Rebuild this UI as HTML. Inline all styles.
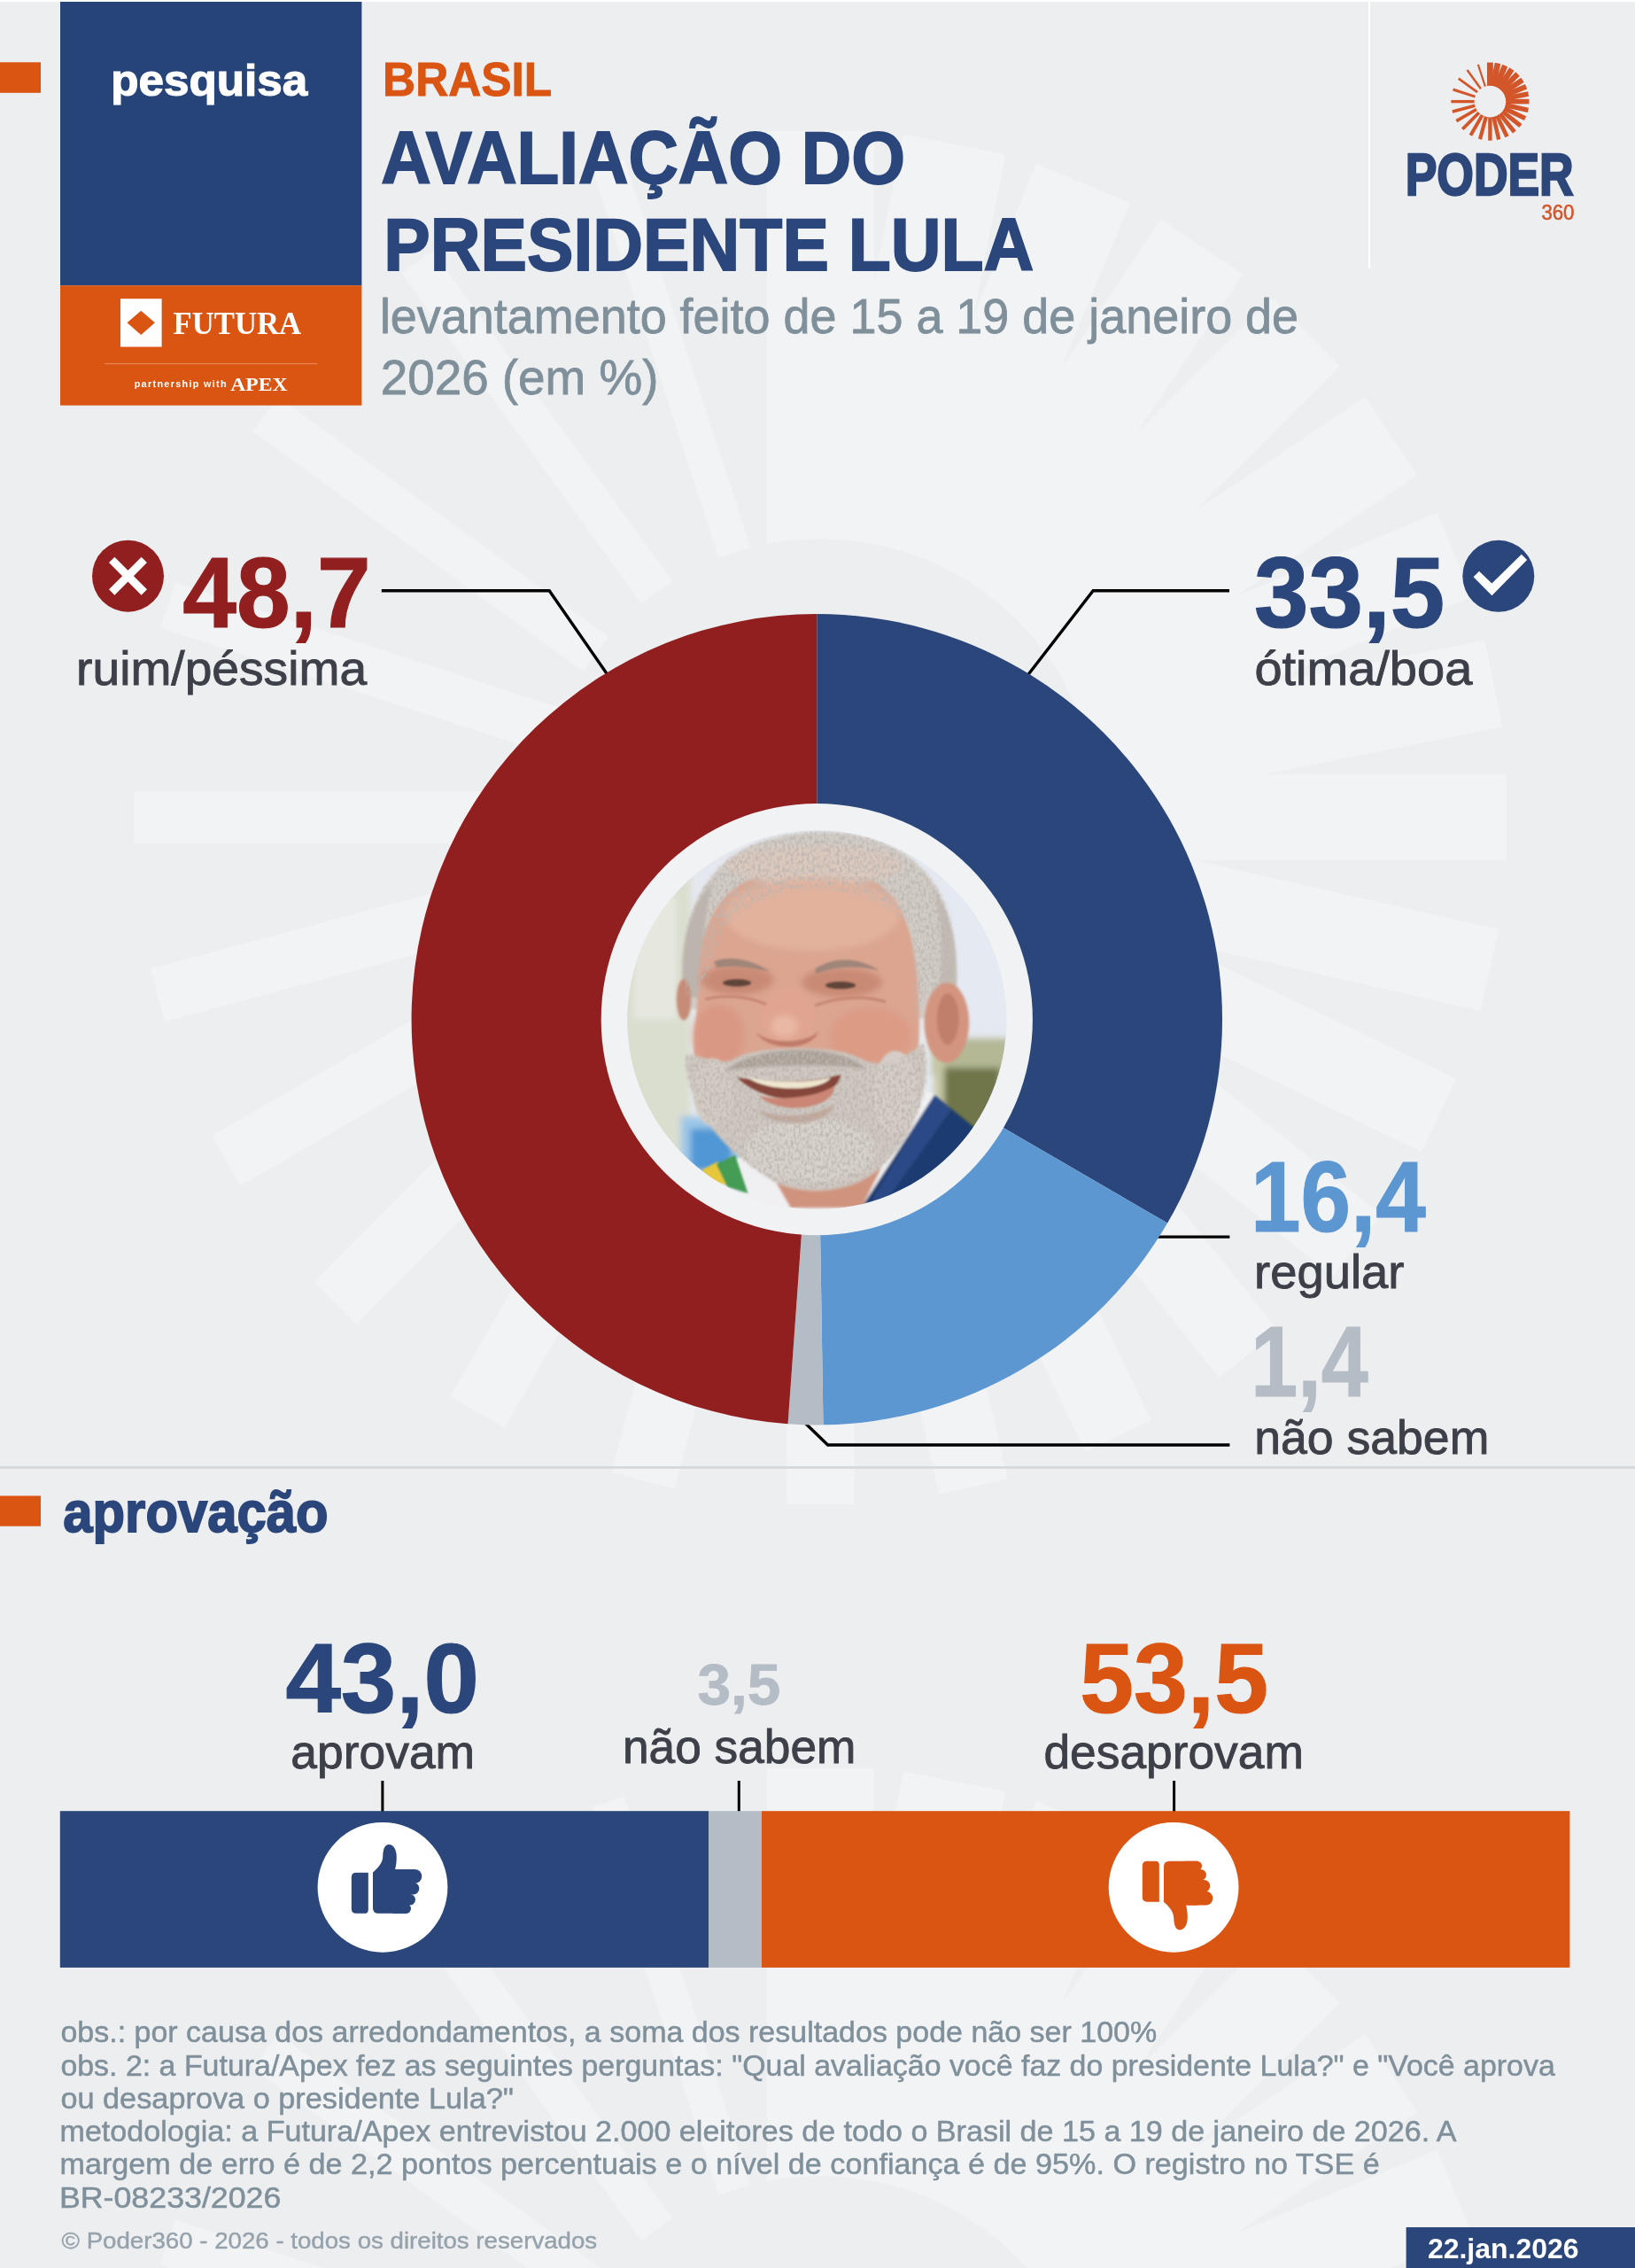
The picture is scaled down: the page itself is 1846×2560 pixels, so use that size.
<!DOCTYPE html>
<html lang="pt-BR">
<head>
<meta charset="utf-8">
<title>Avaliação do presidente Lula - Poder360</title>
<style>
html,body{margin:0;padding:0;background:#edeef0;}
body{width:1846px;height:2560px;overflow:hidden;font-family:'Liberation Sans', sans-serif;}
svg{display:block;}
text{white-space:pre;}
</style>
</head>
<body>
<svg width="1846" height="2560" viewBox="0 0 1846 2560">
<defs>
<clipPath id="sunClip"><path clip-rule="evenodd" d="M-800,-800 H800 V800 H-800 Z M292,0 A292,292 0 1 0 -292,0 A292,292 0 1 0 292,0 Z"/></clipPath>
<g id="sun" clip-path="url(#sunClip)">
<rect x="-56.0" y="-720" width="112.0" height="445" transform="rotate(0.000)"/>
<rect x="-54.6" y="-720" width="109.3" height="445" transform="rotate(11.250)"/>
<rect x="-53.3" y="-720" width="106.6" height="445" transform="rotate(22.500)"/>
<rect x="-51.9" y="-720" width="103.8" height="445" transform="rotate(33.750)"/>
<rect x="-50.6" y="-720" width="101.1" height="445" transform="rotate(45.000)"/>
<rect x="-49.2" y="-720" width="98.4" height="445" transform="rotate(56.250)"/>
<rect x="-47.8" y="-720" width="95.7" height="445" transform="rotate(67.500)"/>
<rect x="-46.5" y="-720" width="93.0" height="445" transform="rotate(78.750)"/>
<rect x="-45.1" y="-720" width="90.2" height="445" transform="rotate(90.000)"/>
<rect x="-43.8" y="-720" width="87.5" height="445" transform="rotate(102.857)"/>
<rect x="-42.4" y="-720" width="84.8" height="445" transform="rotate(115.714)"/>
<rect x="-41.0" y="-720" width="82.1" height="445" transform="rotate(128.571)"/>
<rect x="-39.7" y="-720" width="79.4" height="445" transform="rotate(141.429)"/>
<rect x="-38.3" y="-720" width="76.6" height="445" transform="rotate(154.286)"/>
<rect x="-37.0" y="-720" width="73.9" height="445" transform="rotate(167.143)"/>
<rect x="-35.6" y="-720" width="71.2" height="445" transform="rotate(180.000)"/>
<rect x="-34.2" y="-720" width="68.5" height="445" transform="rotate(195.000)"/>
<rect x="-32.9" y="-720" width="65.8" height="445" transform="rotate(210.000)"/>
<rect x="-31.5" y="-720" width="63.0" height="445" transform="rotate(225.000)"/>
<rect x="-30.2" y="-720" width="60.3" height="445" transform="rotate(240.000)"/>
<rect x="-28.8" y="-720" width="57.6" height="445" transform="rotate(255.000)"/>
<rect x="-27.4" y="-720" width="54.9" height="445" transform="rotate(270.000)"/>
<rect x="-25.0" y="-720" width="50.0" height="445" transform="rotate(288.000)"/>
<rect x="-22.5" y="-720" width="45.1" height="445" transform="rotate(306.000)"/>
<rect x="-20.1" y="-720" width="40.2" height="445" transform="rotate(324.000)"/>
<rect x="-17.6" y="-720" width="35.3" height="445" transform="rotate(342.000)"/>
</g>
<clipPath id="photoClip"><circle cx="922.3" cy="1151.2" r="214"/></clipPath>
<filter id="b4" x="-20%" y="-20%" width="140%" height="140%"><feGaussianBlur stdDeviation="14"/></filter>
<filter id="b2" x="-20%" y="-20%" width="140%" height="140%"><feGaussianBlur stdDeviation="6"/></filter>
<filter id="grain" x="0" y="0" width="100%" height="100%">
<feTurbulence type="fractalNoise" baseFrequency="0.09 0.06" numOctaves="2" seed="7" result="n"/>
<feColorMatrix in="n" type="matrix" values="0 0 0 0 0.50  0 0 0 0 0.46  0 0 0 0 0.43  0 0 0 2.2 -0.85" result="g"/>
<feGaussianBlur in="SourceGraphic" stdDeviation="8" result="sg"/>
<feComposite in="g" in2="sg" operator="in"/>
</filter>
<filter id="b1" x="-20%" y="-20%" width="140%" height="140%"><feGaussianBlur stdDeviation="3"/></filter>
</defs>

<rect width="1846" height="2560" fill="#edeef0"/>
<g transform="translate(926.4,922.7) scale(1.0764)" fill="#ffffff" opacity="0.30"><use href="#sun"/></g>
<g transform="translate(926.4,2770.6) scale(1.0764)" fill="#ffffff" opacity="0.30"><use href="#sun"/></g>
<rect x="0" y="0" width="1846" height="2" fill="#ffffff"/>
<!-- header -->
<rect x="0" y="70.3" width="46" height="34.5" fill="#da5412"/>
<rect x="68" y="2" width="340.4" height="320.2" fill="#274478"/>
<rect x="68" y="322.2" width="340.4" height="135.4" fill="#da5412"/>
<text x="125.3" y="107.8" font-size="50" font-weight="700" fill="#ffffff" font-family="'Liberation Sans', sans-serif" textLength="221.9" lengthAdjust="spacingAndGlyphs" stroke="#ffffff" stroke-width="1.2" stroke-linejoin="miter" stroke-miterlimit="3">pesquisa</text>
<rect x="136" y="337.2" width="46.6" height="54.3" fill="#ffffff"/>
<path d="M159.2,350.7 L174.9,364.3 L159.2,377.9 L143.5,364.3 Z" fill="#da5412"/>
<text x="195.5" y="376.5" font-size="36.5" font-weight="700" fill="#ffffff" font-family="'Liberation Serif', serif" textLength="144.7" lengthAdjust="spacingAndGlyphs">FUTURA</text>
<rect x="118.2" y="410.1" width="240.1" height="1" fill="#ffffff" fill-opacity="0.35"/>
<text x="151.7" y="436.7" font-size="11.3" font-weight="700" fill="#ffffff" font-family="'Liberation Sans', sans-serif" textLength="105.3" lengthAdjust="spacingAndGlyphs" letter-spacing="1.4">partnership with</text>
<text x="260.2" y="441.3" font-size="22" font-weight="700" fill="#ffffff" font-family="'Liberation Serif', serif" textLength="64.3" lengthAdjust="spacingAndGlyphs">APEX</text>
<text x="432.1" y="107.6" font-size="53.5" font-weight="700" fill="#da5412" font-family="'Liberation Sans', sans-serif" textLength="191.1" lengthAdjust="spacingAndGlyphs" stroke="#da5412" stroke-width="0.9" stroke-linejoin="miter" stroke-miterlimit="3">BRASIL</text>
<text x="430.2" y="207.0" font-size="83" font-weight="700" fill="#2b467b" font-family="'Liberation Sans', sans-serif" textLength="591.8" lengthAdjust="spacingAndGlyphs" stroke="#2b467b" stroke-width="1.8" stroke-linejoin="miter" stroke-miterlimit="3">AVALIAÇÃO DO</text>
<text x="433.3" y="305.3" font-size="83" font-weight="700" fill="#2b467b" font-family="'Liberation Sans', sans-serif" textLength="734.1" lengthAdjust="spacingAndGlyphs" stroke="#2b467b" stroke-width="1.8" stroke-linejoin="miter" stroke-miterlimit="3">PRESIDENTE LULA</text>
<text x="428.9" y="376.3" font-size="55" font-weight="400" fill="#7f909b" font-family="'Liberation Sans', sans-serif" textLength="1037.2" lengthAdjust="spacingAndGlyphs" stroke="#7f909b" stroke-width="0.8" stroke-linejoin="miter" stroke-miterlimit="3">levantamento feito de 15 a 19 de janeiro de</text>
<text x="429.7" y="445.0" font-size="55" font-weight="400" fill="#7f909b" font-family="'Liberation Sans', sans-serif" textLength="313.8" lengthAdjust="spacingAndGlyphs" stroke="#7f909b" stroke-width="0.8" stroke-linejoin="miter" stroke-miterlimit="3">2026 (em %)</text>
<rect x="1545" y="0" width="2.1" height="302.7" fill="#ffffff"/>
<g transform="translate(1682.4,114.6) scale(0.06116)" fill="#d2562a"><use href="#sun"/></g>
<text x="1586.7" y="219.8" font-size="66" font-weight="700" fill="#2d477a" font-family="'Liberation Sans', sans-serif" textLength="190.0" lengthAdjust="spacingAndGlyphs" stroke="#2d477a" stroke-width="2.4" stroke-linejoin="miter" stroke-miterlimit="3">PODER</text>
<text x="1740.4" y="247.5" font-size="24" font-weight="400" fill="#d2562a" font-family="'Liberation Sans', sans-serif" textLength="37.1" lengthAdjust="spacingAndGlyphs" stroke="#d2562a" stroke-width="0.6" stroke-linejoin="miter" stroke-miterlimit="3">360</text>
<!-- donut chart -->
<path fill="none" stroke="#000000" stroke-width="3.4" stroke-linejoin="miter" d="M430.8,666.7 H620.2 L689,766"/>
<path fill="none" stroke="#000000" stroke-width="3.4" stroke-linejoin="miter" d="M1388,666.7 H1234.2 L1157,766.5"/>
<path fill="none" stroke="#000000" stroke-width="3.4" stroke-linejoin="miter" d="M1300,1396.1 H1388.4"/>
<path fill="none" stroke="#000000" stroke-width="3.4" stroke-linejoin="miter" d="M907,1604.2 L934.6,1631 H1388.4"/>
<path fill="#2b467b" d="M922.30,693.00 A457.7,457.7 0 0 1 1318.08,1380.59 L1131.21,1272.05 A241.6,241.6 0 0 0 922.30,909.10 Z"/>
<path fill="#5d97d2" d="M1318.08,1380.59 A457.7,457.7 0 0 1 929.49,1608.34 L926.09,1392.27 A241.6,241.6 0 0 0 1131.21,1272.05 Z"/>
<path fill="#b4bcc5" d="M929.49,1608.34 A457.7,457.7 0 0 1 889.58,1607.23 L905.03,1391.68 A241.6,241.6 0 0 0 926.09,1392.27 Z"/>
<path fill="#911f1f" d="M889.58,1607.23 A457.7,457.7 0 0 1 922.30,693.00 L922.30,909.10 A241.6,241.6 0 0 0 905.03,1391.68 Z"/>
<circle cx="922.3" cy="1150.7" r="243.6" fill="#f1f2f4"/>
<circle cx="144.5" cy="650.2" r="40.5" fill="#911f1f"/>
<path d="M126.2,631.9 L162.8,668.5 M162.8,631.9 L126.2,668.5" stroke="#ffffff" stroke-width="9" fill="none"/>
<text x="206.3" y="708.3" font-size="113" font-weight="700" fill="#911f1f" font-family="'Liberation Sans', sans-serif" textLength="212.3" lengthAdjust="spacingAndGlyphs" stroke="#911f1f" stroke-width="1.2" stroke-linejoin="miter" stroke-miterlimit="3">48,7</text>
<text x="86.1" y="772.5" font-size="54" font-weight="400" fill="#3d4048" font-family="'Liberation Sans', sans-serif" textLength="328.0" lengthAdjust="spacingAndGlyphs" stroke="#3d4048" stroke-width="0.9" stroke-linejoin="miter" stroke-miterlimit="3">ruim/péssima</text>
<text x="1416.0" y="708.3" font-size="113" font-weight="700" fill="#2b467b" font-family="'Liberation Sans', sans-serif" textLength="215.1" lengthAdjust="spacingAndGlyphs" stroke="#2b467b" stroke-width="1.2" stroke-linejoin="miter" stroke-miterlimit="3">33,5</text>
<circle cx="1691.8" cy="650.3" r="40.5" fill="#2b467b"/>
<path d="M1663.6,651.2 L1670,644.8 L1684.4,658.6 L1717.8,625.8 L1724.1,631.9 L1684.4,672.3 Z" fill="#ffffff"/>
<text x="1416.4" y="772.5" font-size="54" font-weight="400" fill="#3d4048" font-family="'Liberation Sans', sans-serif" textLength="245.9" lengthAdjust="spacingAndGlyphs" stroke="#3d4048" stroke-width="0.9" stroke-linejoin="miter" stroke-miterlimit="3">ótima/boa</text>
<text x="1411.9" y="1389.5" font-size="113" font-weight="700" fill="#5d97d2" font-family="'Liberation Sans', sans-serif" textLength="197.8" lengthAdjust="spacingAndGlyphs" stroke="#5d97d2" stroke-width="1.2" stroke-linejoin="miter" stroke-miterlimit="3">16,4</text>
<text x="1416.1" y="1454.0" font-size="54" font-weight="400" fill="#3d4048" font-family="'Liberation Sans', sans-serif" textLength="169.2" lengthAdjust="spacingAndGlyphs" stroke="#3d4048" stroke-width="0.9" stroke-linejoin="miter" stroke-miterlimit="3">regular</text>
<text x="1412.3" y="1576.2" font-size="113" font-weight="700" fill="#b4bcc5" font-family="'Liberation Sans', sans-serif" textLength="132.3" lengthAdjust="spacingAndGlyphs" stroke="#b4bcc5" stroke-width="1.2" stroke-linejoin="miter" stroke-miterlimit="3">1,4</text>
<text x="1416.2" y="1640.5" font-size="54" font-weight="400" fill="#3d4048" font-family="'Liberation Sans', sans-serif" textLength="265.1" lengthAdjust="spacingAndGlyphs" stroke="#3d4048" stroke-width="0.9" stroke-linejoin="miter" stroke-miterlimit="3">não sabem</text>
<rect x="0" y="1655" width="1846" height="2.8" fill="#d4d9dd"/>
<!-- portrait -->
<g clip-path="url(#photoClip)">
<g transform="translate(700,930) scale(0.27523)">
<rect x="0" y="0" width="1635" height="1635" fill="#e5e9ef"/>
<g filter="url(#b4)">
<rect x="-60" y="100" width="350" height="1400" fill="#dadecf"/>
<rect x="60" y="300" width="170" height="500" fill="#e6e8e0"/>
<rect x="1340" y="150" width="320" height="700" fill="#e4e9f2"/>
<rect x="1280" y="880" width="320" height="150" fill="#b4b895"/>
<rect x="1300" y="1000" width="260" height="280" fill="#6f7648"/>
<rect x="1290" y="930" width="40" height="330" fill="#c6c7a4"/>
<rect x="250" y="1200" width="260" height="260" fill="#9cc6e8"/>
<rect x="290" y="1250" width="170" height="170" fill="#4f97d5"/>
</g>
<g filter="url(#b2)">
<path d="M262,760 C215,430 330,170 560,80 C760,5 1020,15 1190,140 C1360,270 1410,520 1370,790 L1210,800 L1190,470 L430,470 L340,760 Z" fill="#d2ccc6"/>
<path d="M262,700 C240,500 290,330 380,240 C340,400 330,560 340,720 Z" fill="#bcb5ae"/>
<path d="M1370,760 C1400,560 1370,380 1280,250 C1330,420 1330,600 1290,760 Z" fill="#c2bbb4"/>
<ellipse cx="1340" cy="815" rx="92" ry="165" fill="#d3957f"/>
<ellipse cx="1345" cy="800" rx="45" ry="105" fill="#c07f6a"/>
<ellipse cx="262" cy="720" rx="30" ry="85" fill="#c68c78"/>
<path d="M318,720 C312,400 400,185 790,170 C1150,170 1215,420 1225,720 C1235,900 1220,1010 1190,1110 L330,1110 C285,970 310,840 318,720 Z" fill="#dba590"/>
</g>
<g filter="url(#b4)">
<ellipse cx="800" cy="170" rx="360" ry="80" fill="#dbc9be"/>
<ellipse cx="790" cy="370" rx="360" ry="150" fill="#e2b29d"/>
<ellipse cx="480" cy="640" rx="150" ry="60" fill="#c98a74"/>
<ellipse cx="910" cy="650" rx="165" ry="60" fill="#c98a74"/>
<ellipse cx="1030" cy="870" rx="170" ry="120" fill="#dc9b85"/>
<ellipse cx="405" cy="870" rx="105" ry="130" fill="#d99883"/>
<ellipse cx="690" cy="790" rx="115" ry="120" fill="#e0a590"/>
<ellipse cx="675" cy="830" rx="55" ry="45" fill="#e9b8a5"/>
</g>
<g filter="url(#b2)">
<path d="M560,1350 L1090,1350 L1010,1600 L640,1600 Z" fill="#d0947e"/>
<path d="M455,1385 L560,1330 L700,1575 L990,1575 L1235,1085 L1290,1112 L1040,1610 L540,1610 Z" fill="#f0f0f2"/>
<path d="M1290,1112 L1460,1250 L1340,1510 L960,1620 Z" fill="#1f3b70"/>
<path d="M1290,1112 L1360,1170 L1060,1590 L1000,1600 Z" fill="#2a4a86"/>
<path d="M268,950 C300,935 410,1000 470,965 C560,905 900,905 990,965 C1080,1010 1160,965 1245,900 C1290,1100 1190,1320 1030,1440 C900,1525 700,1525 590,1440 C410,1320 275,1160 268,950 Z" fill="#cfc8c1"/>
<ellipse cx="780" cy="1340" rx="270" ry="130" fill="#d8d2cc"/>
<ellipse cx="1130" cy="1100" rx="90" ry="170" fill="#d5cec8"/>
<ellipse cx="380" cy="1100" rx="80" ry="140" fill="#d3ccc5"/>
<path d="M430,1015 C550,900 910,900 1010,1005 C900,985 560,985 430,1015 Z" fill="#aaa098"/>
<path d="M560,1170 C650,1210 790,1205 880,1150 C860,1240 640,1260 560,1170 Z" fill="#c0a497"/>
</g>
<g filter="url(#grain)">
<path d="M275,700 C225,430 330,170 560,80 C760,5 1020,15 1190,140 C1350,260 1390,470 1365,640 L1260,700 L1215,800 L1200,430 C1000,215 600,215 420,430 L335,700 Z" fill="#000"/>
<path d="M268,950 C300,935 410,1000 470,965 C560,905 900,905 990,965 C1080,1010 1160,965 1245,900 C1290,1100 1190,1320 1030,1440 C900,1525 700,1525 590,1440 C410,1320 275,1160 268,950 Z" fill="#000"/>
</g>
<g filter="url(#b1)">
<path d="M480,1040 C600,1062 800,1062 905,1028 C885,1150 615,1170 480,1040 Z" fill="#85473a"/>
<path d="M525,1040 C620,1062 780,1062 865,1040 C825,1100 600,1100 525,1040 Z" fill="#efe6cf"/>
<path d="M570,1115 C660,1135 800,1125 880,1075 C880,1175 650,1195 570,1115 Z" fill="#cb8674"/>
<ellipse cx="480" cy="652" rx="58" ry="15" fill="#5f4539"/>
<ellipse cx="905" cy="662" rx="62" ry="15" fill="#5f4539"/>
<path d="M385,565 C455,535 545,560 615,605 C545,590 460,578 398,590 Z" fill="#a08579"/>
<path d="M800,595 C880,540 985,548 1065,602 C985,580 880,582 805,615 Z" fill="#a08579"/>
<path d="M350,720 C420,700 520,705 600,740" stroke="#c5846f" stroke-width="10" fill="none"/>
<path d="M800,745 C900,705 1010,705 1090,730" stroke="#c5846f" stroke-width="10" fill="none"/>
<path d="M555,850 C600,905 760,905 815,850 C785,935 600,935 555,850 Z" fill="#c07c67"/>
<path d="M335,1420 L400,1385 L450,1485 L375,1462 Z" fill="#e6c73a"/>
<path d="M395,1395 L472,1358 L525,1515 L440,1488 Z" fill="#459c55"/>
</g>
</g>
</g>
<!-- aprovacao -->
<rect x="0" y="1688.4" width="46" height="34.3" fill="#da5412"/>
<text x="71.3" y="1729.2" font-size="64" font-weight="700" fill="#2b467b" font-family="'Liberation Sans', sans-serif" textLength="299.3" lengthAdjust="spacingAndGlyphs" stroke="#2b467b" stroke-width="1.8" stroke-linejoin="miter" stroke-miterlimit="3">aprovação</text>
<text x="322.4" y="1932.5" font-size="112" font-weight="700" fill="#2b467b" font-family="'Liberation Sans', sans-serif" textLength="218.4" lengthAdjust="spacingAndGlyphs" stroke="#2b467b" stroke-width="1.2" stroke-linejoin="miter" stroke-miterlimit="3">43,0</text>
<text x="328.3" y="1996.3" font-size="54" font-weight="400" fill="#3d4048" font-family="'Liberation Sans', sans-serif" textLength="207.8" lengthAdjust="spacingAndGlyphs" stroke="#3d4048" stroke-width="0.9" stroke-linejoin="miter" stroke-miterlimit="3">aprovam</text>
<text x="787.6" y="1923.5" font-size="65.5" font-weight="700" fill="#b4bcc5" font-family="'Liberation Sans', sans-serif" textLength="93.8" lengthAdjust="spacingAndGlyphs" stroke="#b4bcc5" stroke-width="0.8" stroke-linejoin="miter" stroke-miterlimit="3">3,5</text>
<text x="702.9" y="1989.9" font-size="54" font-weight="400" fill="#3d4048" font-family="'Liberation Sans', sans-serif" textLength="263.6" lengthAdjust="spacingAndGlyphs" stroke="#3d4048" stroke-width="0.9" stroke-linejoin="miter" stroke-miterlimit="3">não sabem</text>
<text x="1219.3" y="1932.5" font-size="112" font-weight="700" fill="#da5412" font-family="'Liberation Sans', sans-serif" textLength="212.7" lengthAdjust="spacingAndGlyphs" stroke="#da5412" stroke-width="1.2" stroke-linejoin="miter" stroke-miterlimit="3">53,5</text>
<text x="1178.4" y="1996.3" font-size="54" font-weight="400" fill="#3d4048" font-family="'Liberation Sans', sans-serif" textLength="293.5" lengthAdjust="spacingAndGlyphs" stroke="#3d4048" stroke-width="0.9" stroke-linejoin="miter" stroke-miterlimit="3">desaprovam</text>
<rect x="430.4" y="2010" width="3" height="35" fill="#000000"/>
<rect x="832.8" y="2010" width="3" height="35" fill="#000000"/>
<rect x="1324.1" y="2010" width="3" height="35" fill="#000000"/>
<rect x="67.8" y="2044.2" width="732.5" height="176.7" fill="#2b467b"/>
<rect x="800" y="2044.2" width="60.2" height="176.7" fill="#b4bcc5"/>
<rect x="860" y="2044.2" width="912.4" height="176.7" fill="#da5412"/>
<circle cx="432" cy="2130.3" r="73.4" fill="#ffffff"/>
<g transform="translate(352,2050) scale(0.09786)" fill="#2b467b"><path d="M458,707 Q458,652 513,652 L652,652 L652,1077 Q652,1122 607,1122 L513,1122 Q458,1122 458,1067 Z"/><path d="M705,648 C765,598 818,540 820,465 C822,400 835,328 890,328 C950,328 985,400 978,500 C975,545 970,580 962,612 L1100,612 L1100,1122 L770,1122 Q705,1122 705,1057 Z"/><rect x="900" y="612" width="370" height="163" rx="81"/><rect x="900" y="765" width="340" height="140" rx="70"/><rect x="900" y="898" width="295" height="130" rx="65"/><rect x="900" y="1010" width="245" height="112" rx="56"/></g>
<circle cx="1325.1" cy="2130.3" r="73.4" fill="#ffffff"/>
<g transform="translate(1245,2210.5) scale(0.09786,-0.09786)" fill="#da5412"><path d="M458,707 Q458,652 513,652 L652,652 L652,1077 Q652,1122 607,1122 L513,1122 Q458,1122 458,1067 Z"/><path d="M705,648 C765,598 818,540 820,465 C822,400 835,328 890,328 C950,328 985,400 978,500 C975,545 970,580 962,612 L1100,612 L1100,1122 L770,1122 Q705,1122 705,1057 Z"/><rect x="900" y="612" width="370" height="163" rx="81"/><rect x="900" y="765" width="340" height="140" rx="70"/><rect x="900" y="898" width="295" height="130" rx="65"/><rect x="900" y="1010" width="245" height="112" rx="56"/></g>
<!-- notes -->
<text x="68.4" y="2305.2" font-size="33.5" font-weight="400" fill="#7f909b" font-family="'Liberation Sans', sans-serif" textLength="1237.8" lengthAdjust="spacingAndGlyphs" stroke="#7f909b" stroke-width="0.5" stroke-linejoin="miter" stroke-miterlimit="3">obs.: por causa dos arredondamentos, a soma dos resultados pode não ser 100%</text>
<text x="68.4" y="2342.5" font-size="33.5" font-weight="400" fill="#7f909b" font-family="'Liberation Sans', sans-serif" textLength="1687.4" lengthAdjust="spacingAndGlyphs" stroke="#7f909b" stroke-width="0.5" stroke-linejoin="miter" stroke-miterlimit="3">obs. 2: a Futura/Apex fez as seguintes perguntas: "Qual avaliação você faz do presidente Lula?" e "Você aprova</text>
<text x="68.4" y="2379.7" font-size="33.5" font-weight="400" fill="#7f909b" font-family="'Liberation Sans', sans-serif" textLength="511.6" lengthAdjust="spacingAndGlyphs" stroke="#7f909b" stroke-width="0.5" stroke-linejoin="miter" stroke-miterlimit="3">ou desaprova o presidente Lula?"</text>
<text x="67.5" y="2417.0" font-size="33.5" font-weight="400" fill="#7f909b" font-family="'Liberation Sans', sans-serif" textLength="1577.0" lengthAdjust="spacingAndGlyphs" stroke="#7f909b" stroke-width="0.5" stroke-linejoin="miter" stroke-miterlimit="3">metodologia: a Futura/Apex entrevistou 2.000 eleitores de todo o Brasil de 15 a 19 de janeiro de 2026. A</text>
<text x="67.5" y="2454.2" font-size="33.5" font-weight="400" fill="#7f909b" font-family="'Liberation Sans', sans-serif" textLength="1490.2" lengthAdjust="spacingAndGlyphs" stroke="#7f909b" stroke-width="0.5" stroke-linejoin="miter" stroke-miterlimit="3">margem de erro é de 2,2 pontos percentuais e o nível de confiança é de 95%. O registro no TSE é</text>
<text x="66.9" y="2491.5" font-size="33.5" font-weight="400" fill="#7f909b" font-family="'Liberation Sans', sans-serif" textLength="250.5" lengthAdjust="spacingAndGlyphs" stroke="#7f909b" stroke-width="0.5" stroke-linejoin="miter" stroke-miterlimit="3">BR-08233/2026</text>
<text x="69.6" y="2537.6" font-size="26.5" font-weight="400" fill="#95a2ab" font-family="'Liberation Sans', sans-serif" textLength="604.6" lengthAdjust="spacingAndGlyphs" stroke="#95a2ab" stroke-width="0.4" stroke-linejoin="miter" stroke-miterlimit="3">© Poder360 - 2026 - todos os direitos reservados</text>
<rect x="1587.6" y="2514" width="258.4" height="46" fill="#2b467b"/>
<text x="1611.9" y="2549.0" font-size="32" font-weight="700" fill="#ffffff" font-family="'Liberation Sans', sans-serif" textLength="170.6" lengthAdjust="spacingAndGlyphs">22.jan.2026</text>
</svg>
</body>
</html>
